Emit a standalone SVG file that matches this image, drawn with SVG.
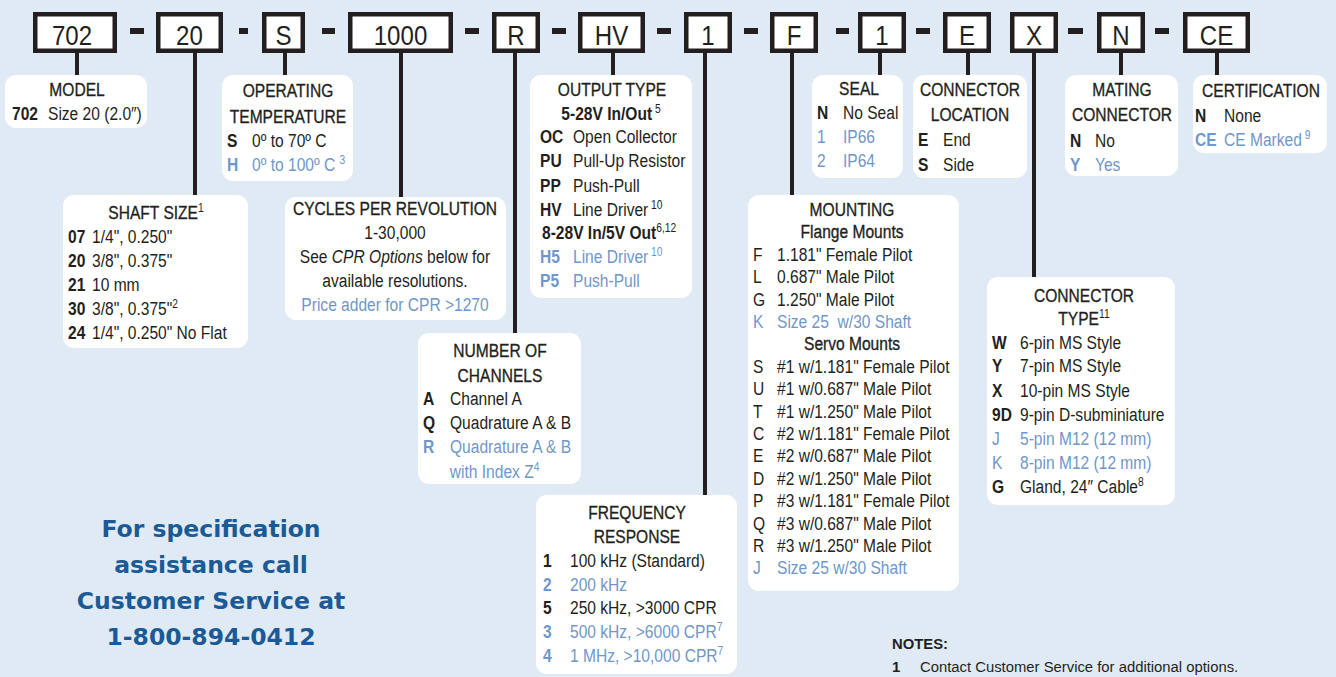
<svg xmlns="http://www.w3.org/2000/svg" width="1336" height="677" viewBox="0 0 1336 677">
<style>
text{font-family:"Liberation Sans",Arial,sans-serif;font-size:19px;fill:#231f20;transform-box:fill-box;transform-origin:0 0;transform:scaleX(0.82)}
.h{text-anchor:middle;stroke:#231f20;stroke-width:0.35;transform-origin:50% 0}
.hb{text-anchor:middle;font-weight:bold;transform-origin:50% 0}
.c{font-weight:bold}
.b{fill:#6f97c9}
.bs{fill:#6f97c9;font-weight:bold}
.m{text-anchor:middle;transform-origin:50% 0}
.sup{font-size:12.5px}
.code{fill:#fff;stroke:#231f20;stroke-width:4.5}
.dash{fill:#231f20}
.ct{font-size:28px;text-anchor:middle;transform-origin:50% 0;transform:scaleX(0.86)}
.card{fill:#fff}
.stem{stroke:#231f20;stroke-width:4;fill:none}
.call{font-family:"DejaVu Sans",Verdana,sans-serif;font-size:23.5px;font-weight:bold;fill:#1a5a96;text-anchor:middle;transform:none}
.n{font-size:15.3px;transform:scaleX(0.97)}
</style>
<rect width="1336" height="677" fill="#e0eaf5"/>

<g id="connectors">
<line class="stem" x1="77" y1="50" x2="77" y2="76"/>
<line class="stem" x1="195" y1="50" x2="195" y2="196"/>
<line class="stem" x1="285" y1="50" x2="285" y2="76"/>
<line class="stem" x1="401" y1="50" x2="401" y2="198"/>
<line class="stem" x1="515" y1="50" x2="515" y2="334"/>
<line class="stem" x1="613" y1="50" x2="613" y2="76"/>
<line class="stem" x1="705" y1="50" x2="705" y2="496"/>
<line class="stem" x1="792" y1="50" x2="792" y2="196"/>
<line class="stem" x1="880" y1="50" x2="880" y2="76"/>
<line class="stem" x1="968" y1="50" x2="968" y2="76"/>
<line class="stem" x1="1034" y1="50" x2="1034" y2="278"/>
<line class="stem" x1="1121" y1="50" x2="1121" y2="76"/>
<line class="stem" x1="1217" y1="50" x2="1217" y2="76"/>
</g>

<g id="code-row">
<rect class="code" x="35.25" y="14.25" width="79.5" height="36.5"/><text class="ct" x="72" y="45">702</text>
<rect class="dash" x="130" y="28" width="14" height="6"/>
<rect class="code" x="158.25" y="14.25" width="62.5" height="36.5"/><text class="ct" x="189.5" y="45">20</text>
<rect class="dash" x="239" y="28" width="9" height="6"/>
<rect class="code" x="264.25" y="14.25" width="38.5" height="36.5"/><text class="ct" x="283.5" y="45">S</text>
<rect class="dash" x="322" y="28" width="13" height="6"/>
<rect class="code" x="350.25" y="14.25" width="100.5" height="36.5"/><text class="ct" x="400.5" y="45">1000</text>
<rect class="dash" x="465" y="28" width="14" height="6"/>
<rect class="code" x="494.25" y="14.25" width="43.5" height="36.5"/><text class="ct" x="516" y="45">R</text>
<rect class="dash" x="552" y="28" width="14" height="6"/>
<rect class="code" x="580.25" y="14.25" width="62.5" height="36.5"/><text class="ct" x="611.5" y="45">HV</text>
<rect class="dash" x="657" y="28" width="14" height="6"/>
<rect class="code" x="686.25" y="14.25" width="43.5" height="36.5"/><text class="ct" x="708" y="45">1</text>
<rect class="dash" x="744" y="28" width="14" height="6"/>
<rect class="code" x="772.25" y="14.25" width="43.5" height="36.5"/><text class="ct" x="794" y="45">F</text>
<rect class="dash" x="836" y="28" width="13" height="6"/>
<rect class="code" x="860.25" y="14.25" width="43.5" height="36.5"/><text class="ct" x="882" y="45">1</text>
<rect class="dash" x="916" y="28" width="14" height="6"/>
<rect class="code" x="945.25" y="14.25" width="43.5" height="36.5"/><text class="ct" x="967" y="45">E</text>
<rect class="code" x="1012.25" y="14.25" width="43.5" height="36.5"/><text class="ct" x="1034" y="45">X</text>
<rect class="dash" x="1068" y="28" width="15" height="6"/>
<rect class="code" x="1099.25" y="14.25" width="43.5" height="36.5"/><text class="ct" x="1121" y="45">N</text>
<rect class="dash" x="1155" y="28" width="14" height="6"/>
<rect class="code" x="1185.25" y="14.25" width="62.5" height="36.5"/><text class="ct" x="1216.5" y="45">CE</text>
</g>

<g id="model">
<rect class="card" x="5" y="75" width="142" height="53" rx="11"/>
<text class="h" x="77" y="96">MODEL</text>
<text class="c" x="12" y="120">702</text><text x="48" y="120">Size 20 (2.0″)</text>
</g>

<g id="operating-temperature">
<rect class="card" x="222" y="75" width="131" height="106" rx="11"/>
<text class="h" x="288" y="97">OPERATING</text>
<text class="h" x="288" y="123">TEMPERATURE</text>
<text class="c" x="227" y="147">S</text><text x="252" y="147">0º to 70º C</text>
<text class="bs" x="227" y="171">H</text><text class="b" x="252" y="171">0º to 100º C <tspan class="sup" dy="-7">3</tspan></text>
</g>

<g id="shaft-size">
<rect class="card" x="63" y="195" width="185" height="153" rx="11"/>
<text class="h" x="156" y="219">SHAFT SIZE<tspan class="sup" dy="-7" stroke-width="0">1</tspan></text>
<text class="c" x="68" y="243">07</text><text x="92" y="243">1/4", 0.250"</text>
<text class="c" x="68" y="267">20</text><text x="92" y="267">3/8", 0.375"</text>
<text class="c" x="68" y="291">21</text><text x="92" y="291">10 mm</text>
<text class="c" x="68" y="315">30</text><text x="92" y="315">3/8", 0.375"<tspan class="sup" dy="-7">2</tspan></text>
<text class="c" x="68" y="339">24</text><text x="92" y="339">1/4", 0.250" No Flat</text>
</g>

<g id="cycles-per-revolution">
<rect class="card" x="285" y="197" width="221" height="123" rx="11"/>
<text class="h" x="395" y="215">CYCLES PER REVOLUTION</text>
<text class="m" x="395" y="239">1-30,000</text>
<text class="m" x="395" y="263">See <tspan font-style="italic">CPR Options</tspan> below for</text>
<text class="m" x="395" y="287">available resolutions.</text>
<text class="m b" x="395" y="311">Price adder for CPR &gt;1270</text>
</g>

<g id="number-of-channels">
<rect class="card" x="418" y="333" width="163" height="151" rx="11"/>
<text class="h" x="500" y="357">NUMBER OF</text>
<text class="h" x="500" y="382">CHANNELS</text>
<text class="c" x="423" y="405">A</text><text x="450" y="405">Channel A</text>
<text class="c" x="423" y="429">Q</text><text x="450" y="429">Quadrature A &amp; B</text>
<text class="bs" x="423" y="453">R</text><text class="b" x="450" y="453">Quadrature A &amp; B</text>
<text class="b" x="450" y="478">with Index Z<tspan class="sup" dy="-7">4</tspan></text>
</g>

<g id="output-type">
<rect class="card" x="530" y="75" width="162" height="223" rx="11"/>
<text class="h" x="612" y="96">OUTPUT TYPE</text>
<text class="hb" x="611" y="120">5-28V In/Out<tspan class="sup" font-weight="normal" dy="-7"> 5</tspan></text>
<text class="c" x="540" y="143">OC</text><text x="573" y="143">Open Collector</text>
<text class="c" x="540" y="167">PU</text><text x="573" y="167">Pull-Up Resistor</text>
<text class="c" x="540" y="192">PP</text><text x="573" y="192">Push-Pull</text>
<text class="c" x="540" y="216">HV</text><text x="573" y="216">Line Driver<tspan class="sup" dy="-7"> 10</tspan></text>
<text class="c" x="542" y="239">8-28V In/5V Out<tspan class="sup" font-weight="normal" dy="-7">6,12</tspan></text>
<text class="bs" x="540" y="263">H5</text><text class="b" x="573" y="263">Line Driver<tspan class="sup" dy="-7"> 10</tspan></text>
<text class="bs" x="540" y="287">P5</text><text class="b" x="573" y="287">Push-Pull</text>
</g>

<g id="frequency-response">
<rect class="card" x="536" y="495" width="201" height="179" rx="11"/>
<text class="h" x="637" y="519">FREQUENCY</text>
<text class="h" x="637" y="543">RESPONSE</text>
<text class="c" x="543" y="567">1</text><text x="570" y="567">100 kHz (Standard)</text>
<text class="bs" x="543" y="591">2</text><text class="b" x="570" y="591">200 kHz</text>
<text class="c" x="543" y="614">5</text><text x="570" y="614">250 kHz, &gt;3000 CPR</text>
<text class="bs" x="543" y="638">3</text><text class="b" x="570" y="638">500 kHz, &gt;6000 CPR<tspan class="sup" dy="-7">7</tspan></text>
<text class="bs" x="543" y="662">4</text><text class="b" x="570" y="662">1 MHz, &gt;10,000 CPR<tspan class="sup" dy="-7">7</tspan></text>
</g>

<g id="mounting">
<rect class="card" x="748" y="195" width="211" height="396" rx="11"/>
<text class="h" x="852" y="216">MOUNTING</text>
<text class="h" x="852" y="238">Flange Mounts</text>
<text x="753" y="261">F</text><text x="777" y="261">1.181" Female Pilot</text>
<text x="753" y="283">L</text><text x="777" y="283">0.687" Male Pilot</text>
<text x="753" y="306">G</text><text x="777" y="306">1.250" Male Pilot</text>
<text class="b" x="753" y="328">K</text><text class="b" x="777" y="328" xml:space="preserve">Size 25  w/30 Shaft</text>
<text class="h" x="852" y="350">Servo Mounts</text>
<text x="753" y="373">S</text><text x="777" y="373">#1 w/1.181" Female Pilot</text>
<text x="753" y="395">U</text><text x="777" y="395">#1 w/0.687" Male Pilot</text>
<text x="753" y="418">T</text><text x="777" y="418">#1 w/1.250" Male Pilot</text>
<text x="753" y="440">C</text><text x="777" y="440">#2 w/1.181" Female Pilot</text>
<text x="753" y="462">E</text><text x="777" y="462">#2 w/0.687" Male Pilot</text>
<text x="753" y="485">D</text><text x="777" y="485">#2 w/1.250" Male Pilot</text>
<text x="753" y="507">P</text><text x="777" y="507">#3 w/1.181" Female Pilot</text>
<text x="753" y="530">Q</text><text x="777" y="530">#3 w/0.687" Male Pilot</text>
<text x="753" y="552">R</text><text x="777" y="552">#3 w/1.250" Male Pilot</text>
<text class="b" x="753" y="574">J</text><text class="b" x="777" y="574">Size 25 w/30 Shaft</text>
</g>

<g id="seal">
<rect class="card" x="812" y="75" width="91" height="103" rx="11"/>
<text class="h" x="859" y="95">SEAL</text>
<text class="c" x="817" y="119">N</text><text x="843" y="119">No Seal</text>
<text class="b" x="817" y="143">1</text><text class="b" x="843" y="143">IP66</text>
<text class="b" x="817" y="167">2</text><text class="b" x="843" y="167">IP64</text>
</g>

<g id="connector-location">
<rect class="card" x="913" y="75" width="114" height="103" rx="11"/>
<text class="h" x="970" y="96">CONNECTOR</text>
<text class="h" x="970" y="121">LOCATION</text>
<text class="c" x="918" y="146">E</text><text x="943" y="146">End</text>
<text class="c" x="918" y="171">S</text><text x="943" y="171">Side</text>
</g>

<g id="connector-type">
<rect class="card" x="987" y="277" width="188" height="228" rx="11"/>
<text class="h" x="1084" y="302">CONNECTOR</text>
<text class="h" x="1084" y="325">TYPE<tspan class="sup" dy="-7" stroke-width="0">11</tspan></text>
<text class="c" x="992" y="349">W</text><text x="1020" y="349">6-pin MS Style</text>
<text class="c" x="992" y="372">Y</text><text x="1020" y="372">7-pin MS Style</text>
<text class="c" x="992" y="397">X</text><text x="1020" y="397">10-pin MS Style</text>
<text class="c" x="992" y="421">9D</text><text x="1020" y="421">9-pin D-subminiature</text>
<text class="b" x="992" y="445">J</text><text class="b" x="1020" y="445">5-pin M12 (12 mm)</text>
<text class="b" x="992" y="469">K</text><text class="b" x="1020" y="469">8-pin M12 (12 mm)</text>
<text class="c" x="992" y="493">G</text><text x="1020" y="493">Gland, 24″ Cable<tspan class="sup" dy="-7">8</tspan></text>
</g>

<g id="mating-connector">
<rect class="card" x="1065" y="75" width="113" height="101" rx="11"/>
<text class="h" x="1122" y="96">MATING</text>
<text class="h" x="1122" y="121">CONNECTOR</text>
<text class="c" x="1070" y="147">N</text><text x="1095" y="147">No</text>
<text class="bs" x="1070" y="171">Y</text><text class="b" x="1095" y="171">Yes</text>
</g>

<g id="certification">
<rect class="card" x="1193" y="75" width="134" height="78" rx="11"/>
<text class="h" x="1261" y="97">CERTIFICATION</text>
<text class="c" x="1195" y="122">N</text><text x="1224" y="122">None</text>
<text class="bs" x="1195" y="146">CE</text><text class="b" x="1224" y="146">CE Marked<tspan class="sup" dy="-7"> 9</tspan></text>
</g>

<g id="call-note">
<text class="call" x="211" y="537">For specification</text>
<text class="call" x="211" y="573">assistance call</text>
<text class="call" x="211" y="609">Customer Service at</text>
<text class="call" x="211" y="645">1-800-894-0412</text>
</g>

<g id="notes">
<text class="n c" x="892" y="649">NOTES:</text>
<text class="n c" x="892" y="672">1</text><text class="n" x="920" y="672">Contact Customer Service for additional options.</text>
</g>
</svg>
